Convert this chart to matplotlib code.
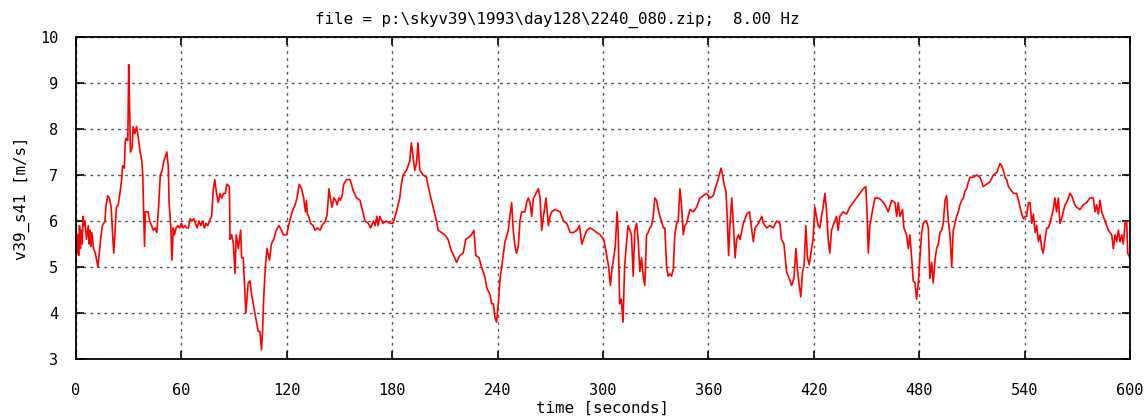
import matplotlib
matplotlib.use("Agg")
import matplotlib.pyplot as plt

time_s = [
    0, 0.5, 1, 1.5, 2, 2.5, 3, 3.5, 4, 4.5, 5, 6, 7, 7.5, 8, 8.5, 9, 10, 11, 12,
    12.5, 13, 14, 15, 16.5, 17, 18, 19, 20, 21, 21.5, 22, 23, 24, 25, 26, 26.5, 27.5, 28, 28.5,
    29.5, 30, 30.3, 31, 32, 32.5, 33.5, 34.5, 35.5, 36.5, 37.5, 38, 38.5, 39, 39.5, 41, 42, 43, 44, 45,
    46, 47, 48, 49, 50, 51.7, 52.5, 53, 54, 54.6, 55.4, 56, 57, 58, 59, 60, 61, 62, 63, 64,
    65, 66, 67, 68, 69, 70, 71, 72, 73, 74, 75, 76, 77.2, 78.2, 79, 80, 81, 82, 83, 84,
    85, 85.8, 87.3, 87.7, 88.6, 89.6, 90.5, 91.2, 92.4, 93.7, 94.3, 95.2, 95.8, 96.7, 98, 99, 100, 100.9, 101.8, 102.8,
    103.7, 104.7, 105.6, 106.2, 106.8, 107.8, 108.7, 110.2, 111.2, 112.5, 114, 115.6, 117, 118, 120, 121, 121.7, 123, 124.7, 125.8,
    127.1, 128.4, 129.6, 130.6, 131.2, 131.7, 132.5, 133.5, 135, 136, 137.5, 139, 140, 142, 143, 144, 145, 145.8, 146.8, 147.8,
    148.7, 149.6, 150.5, 151.5, 152.4, 154, 155, 156, 157.9, 159.8, 161.7, 162.6, 163.6, 164.5, 166.4, 167.7, 169.3, 170.3, 171.2, 172,
    172.9, 174.8, 176.7, 178.6, 180.5, 182.4, 184.3, 185.2, 186.2, 188.1, 190, 190.9, 191.9, 192.8, 193.8, 194.7, 195.7, 197.6, 199.5, 200.5,
    201.4, 203.3, 205.2, 206.1, 208, 209.9, 211.8, 213.7, 215.6, 216.6, 218.5, 220.4, 221.9, 223.8, 225.1, 226.5, 227.6, 229.5, 230.8, 232.7,
    233.8, 235.7, 236.6, 237.6, 238.5, 239.4, 240.4, 241.3, 242.3, 243.2, 244.2, 246.1, 247, 248, 248.9, 249.9, 250.8, 251.8, 252.7, 253.7,
    255.6, 256.5, 257.5, 258.5, 259.4, 260.4, 261.9, 263.2, 264.2, 265.1, 266.1, 267.6, 268.9, 269.9, 270.8, 272.7, 275.6, 277.5, 279.4, 281.3,
    283.2, 285.1, 286.6, 288, 289.3, 290.8, 292.7, 294.6, 296.5, 298.4, 300.4, 301.9, 303.2, 304.2, 305.1, 306.1, 307, 308, 308.6, 309.5,
    310.4, 311.4, 312.3, 313.3, 314.3, 315.3, 316.2, 317.2, 318.1, 319.1, 320, 321, 321.9, 322.9, 323.8, 324.8, 325.7, 326.7, 327.6, 328.6,
    329.5, 330.5, 331.4, 332.4, 333.3, 334.3, 335.2, 336.2, 337.1, 338.1, 339, 340, 340.9, 341.9, 342.8, 343.8, 344.7, 345.7, 346.6, 347.6,
    348.5, 349.5, 351.4, 353.3, 355.2, 357.1, 359, 360.9, 362.8, 363.8, 365.1, 366.2, 367.2, 368.1, 368.9, 370, 370.8, 371.5, 372.3, 373.3,
    374.2, 375.2, 376.1, 377.1, 378, 379.9, 381.8, 383.4, 384.7, 385.6, 386.6, 388.5, 390.4, 391.3, 393.2, 395, 396.9, 398.8, 400.7, 401.6,
    403, 404.5, 406, 407.4, 408.7, 409.8, 410.8, 411.7, 412.6, 413.6, 414.5, 415.5, 416.4, 417.4, 418.7, 419.6, 420.6, 421.5, 422.5, 423.4,
    424.4, 425.3, 426.3, 427.2, 428.2, 429.1, 430.1, 431, 432, 432.9, 433.9, 434.8, 436.7, 438.6, 440.5, 442.4, 444.3, 446.2, 447.2, 448.1,
    449.6, 450.4, 451, 451.9, 453.5, 454.8, 456.7, 458.6, 460.5, 462.4, 464.3, 466.2, 467.2, 468.1, 469.1, 470.5, 471.3, 472.8, 473.8, 474.7,
    475.7, 476.6, 477.6, 478.5, 479.5, 480.4, 481.4, 482.3, 483.3, 484.2, 485.2, 486.1, 487.1, 488, 489, 489.9, 490.9, 491.8, 492.8, 493.7,
    494.7, 495.6, 496.6, 497.5, 498.5, 499.4, 500.4, 501.3, 502.3, 503.2, 504.2, 505.1, 506.1, 507, 508, 508.9, 510.8, 512.7, 514.6, 516.5,
    518.4, 520.3, 522.2, 524.1, 526, 527, 527.9, 528.9, 529.8, 530.8, 532.7, 533.6, 535.5, 536.5, 537.4, 538.4, 539.3, 540.3, 541.2, 542.2,
    543.1, 544.1, 545, 546, 546.9, 547.9, 548.8, 549.8, 550.6, 551.6, 552.6, 553.5, 554.4, 555.4, 556.3, 557.3, 558.2, 559.2, 560.1, 561.1,
    562, 563, 563.9, 564.9, 565.8, 566.8, 567.7, 568.7, 569.6, 571.5, 573.4, 575.3, 577.2, 579.1, 580.1, 581, 582, 582.9, 583.9, 584.8,
    585.8, 586.7, 587.7, 588.6, 589.6, 590.5, 591.5, 592.4, 593.4, 594.3, 595.3, 596.2, 597.2, 598.1, 598.7, 599.9,
]
speed = [
    5.85, 5.3, 5.7, 5.25, 5.9, 5.4, 5.8, 5.5, 6.1, 5.9, 6.0, 5.6, 5.9, 5.5, 5.8, 5.45, 5.75, 5.4, 5.3, 5.1,
    5.0, 5.2, 5.6, 5.9, 6.0, 6.3, 6.55, 6.5, 6.3, 5.6, 5.3, 5.6, 6.3, 6.35, 6.6, 6.9, 7.2, 7.15, 7.7, 7.8,
    7.75, 9.4, 8.9, 7.5, 7.6, 8.05, 7.9, 8.05, 7.8, 7.5, 7.3, 7.0, 6.2, 5.45, 6.2, 6.2, 6.0, 5.9, 5.8, 5.85,
    5.75, 6.3, 7.0, 7.1, 7.3, 7.5, 7.2, 6.4, 5.85, 5.15, 5.85, 5.7, 5.85, 5.9, 5.85, 5.95, 5.85, 5.9, 5.85, 5.85,
    6.05, 6.0, 6.05, 5.95, 5.85, 6.0, 5.9, 6.0, 5.85, 5.95, 5.9, 6.0, 6.1, 6.7, 6.9, 6.6, 6.4, 6.6, 6.5, 6.6,
    6.6, 6.8, 6.75, 5.6, 5.7, 5.5, 4.86, 5.7, 5.4, 5.8, 5.2, 5.2, 4.7, 4.0, 4.65, 4.7, 4.4, 4.2, 4.0, 3.8,
    3.6, 3.6, 3.2, 3.6, 4.3, 5.0, 5.4, 5.15, 5.5, 5.6, 5.8, 5.9, 5.8, 5.7, 5.7, 5.9, 6.0, 6.2, 6.35, 6.5,
    6.8, 6.7, 6.5, 6.2, 6.45, 6.15, 6.1, 5.95, 5.9, 5.8, 5.85, 5.8, 5.9, 6.0, 6.15, 6.7, 6.45, 6.3, 6.5, 6.45,
    6.35, 6.5, 6.45, 6.55, 6.8, 6.9, 6.9, 6.9, 6.65, 6.5, 6.45, 6.3, 6.15, 6.0, 5.95, 5.85, 6.0, 5.9, 6.1, 5.9,
    6.1, 5.95, 6.0, 5.95, 5.95, 6.2, 6.5, 6.8, 7.0, 7.1, 7.3, 7.7, 7.4, 7.1, 7.25, 7.7, 7.1, 7.0, 6.95, 6.75,
    6.6, 6.3, 6.0, 5.8, 5.75, 5.7, 5.6, 5.35, 5.2, 5.1, 5.25, 5.3, 5.6, 5.65, 5.7, 5.8, 5.25, 5.2, 5.0, 4.8,
    4.55, 4.4, 4.2, 4.2, 3.9, 3.8, 4.2, 4.7, 5.0, 5.25, 5.55, 5.8, 6.1, 6.4, 5.8, 5.45, 5.3, 5.45, 6.0, 6.2,
    6.2, 6.4, 6.5, 6.4, 6.1, 6.5, 6.6, 6.7, 6.5, 5.8, 6.1, 6.5, 5.9, 6.1, 6.2, 6.25, 6.2, 6.0, 5.95, 5.75,
    5.75, 5.8, 5.9, 5.5, 5.65, 5.8, 5.85, 5.8, 5.75, 5.7, 5.6, 5.3, 5.0, 4.6, 4.95, 5.2, 5.45, 6.2, 5.8, 4.2,
    4.3, 3.8, 5.0, 5.5, 5.9, 5.8, 5.7, 4.8, 5.8, 5.95, 5.6, 4.9, 5.2, 4.8, 4.6, 5.7, 5.75, 5.85, 5.9, 6.1,
    6.5, 6.45, 6.25, 6.1, 6.0, 5.85, 5.85, 5.0, 4.8, 4.85, 4.8, 4.95, 5.7, 5.95, 6.0, 6.7, 6.35, 5.7, 5.9, 5.95,
    6.1, 6.25, 6.2, 6.3, 6.5, 6.55, 6.6, 6.5, 6.55, 6.7, 6.85, 7.0, 7.15, 7.0, 6.8, 6.65, 6.0, 5.25, 5.95, 6.5,
    5.95, 5.2, 5.6, 5.7, 5.6, 5.95, 6.15, 6.2, 5.8, 5.55, 5.85, 5.95, 6.1, 5.95, 5.85, 5.9, 5.85, 6.0, 5.95, 5.6,
    5.5, 4.9, 4.75, 4.6, 4.75, 5.4, 4.9, 4.6, 4.35, 4.9, 5.05, 5.9, 5.2, 5.05, 5.4, 5.6, 6.3, 6.1, 5.9, 5.85,
    6.1, 6.3, 6.6, 6.25, 5.6, 5.3, 5.8, 5.9, 6.0, 6.1, 5.8, 6.1, 6.2, 6.15, 6.3, 6.4, 6.5, 6.6, 6.65, 6.7,
    6.75, 6.1, 5.3, 5.9, 6.25, 6.5, 6.5, 6.45, 6.35, 6.2, 6.45, 6.4, 6.1, 6.4, 6.1, 6.25, 5.85, 5.7, 5.4, 5.7,
    5.2, 4.7, 4.65, 4.3, 4.65, 5.2, 5.75, 5.95, 6.0, 6.0, 5.85, 4.75, 5.1, 4.65, 5.15, 5.4, 5.5, 5.75, 5.8, 5.95,
    6.45, 6.55, 6.0, 5.7, 5.0, 5.8, 5.95, 6.1, 6.2, 6.35, 6.45, 6.5, 6.65, 6.7, 6.85, 6.95, 6.95, 7.0, 6.95, 6.75,
    6.8, 6.85, 7.0, 7.05, 7.25, 7.2, 7.1, 6.95, 6.9, 6.75, 6.65, 6.6, 6.6, 6.45, 6.3, 6.15, 6.05, 6.1, 6.1, 6.4,
    6.4, 5.95, 6.15, 5.75, 5.9, 5.55, 5.7, 5.4, 5.3, 5.6, 5.85, 5.85, 5.95, 6.1, 6.25, 6.5, 6.2, 6.5, 5.95, 6.05,
    6.2, 6.35, 6.4, 6.5, 6.6, 6.55, 6.45, 6.35, 6.3, 6.25, 6.35, 6.4, 6.5, 6.5, 6.2, 6.35, 6.15, 6.45, 6.2, 6.1,
    6.0, 5.9, 5.8, 5.75, 5.7, 5.4, 5.7, 5.55, 5.8, 5.55, 5.7, 5.5, 5.95, 6.0, 5.3, 5.2,
]

x_ticks = [0, 60, 120, 180, 240, 300, 360, 420, 480, 540, 600]
y_ticks = [3, 4, 5, 6, 7, 8, 9, 10]

plt.rcParams['font.family'] = ['DejaVu Sans Mono']

fig = plt.figure(figsize=(11.46, 4.20), dpi=100)
ax = fig.add_axes([76 / 1146, 1 - 359 / 420, (1130 - 76) / 1146, (359 - 37) / 420])

ax.plot(time_s, speed, color='#ff0000', linewidth=1.2)

ax.set_xlim(0, 600)
ax.set_ylim(3, 10)
ax.set_xticks(x_ticks)
ax.set_yticks(y_ticks)
ax.grid(True, color='#555555', linestyle=(0, (2, 3)), linewidth=1.0)
ax.tick_params(direction='in', length=6, width=1.2, top=True, right=True,
               labelsize=11, colors='black')
ax.tick_params(axis='x', pad=17)
ax.tick_params(axis='y', pad=13)
for s in ax.spines.values():
    s.set_linewidth(1.3)

# gnuplot centres the title on the canvas, not on the plot box
fig.text(557 / 1146, 1 - 20 / 420, r'file = p:\skyv39\1993\day128\2240_080.zip;  8.00 Hz',
         fontsize=11.4, ha='center', va='center')
ax.set_xlabel('time [seconds]', fontsize=11.4, labelpad=2)
ax.set_ylabel('v39_s41 [m/s]', fontsize=11.4, labelpad=7)

fig.savefig('out.png', dpi=100)
